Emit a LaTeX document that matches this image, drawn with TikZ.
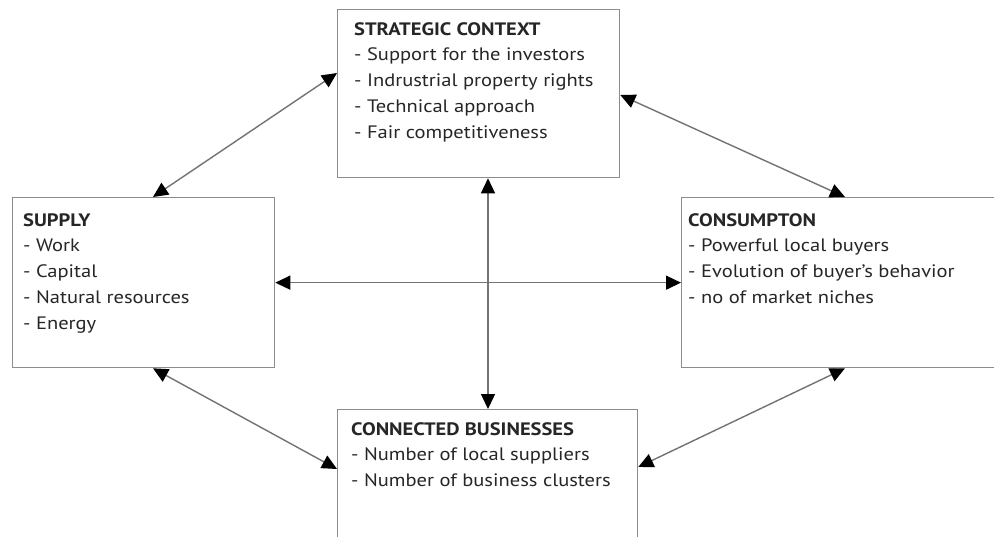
\documentclass[tikz,border=0pt]{standalone}
\usepackage{fontspec}
\setmainfont{PT Sans}[FakeStretch=1.14]
\usetikzlibrary{arrows.meta,calc}
\begin{document}
\begin{tikzpicture}[x=1pt,y=-1pt,
  box/.style={draw=black!45, line width=1.3pt, inner sep=0pt, anchor=north west, fill=white},
  txt/.style={anchor=north west, inner sep=0pt, align=left, text=black!85,
    font=\fontsize{18}{25.8}\selectfont},
  link/.style={draw=black!55, line width=1.4pt, {Triangle[length=15pt,width=14pt,color=black]}-{Triangle[length=15pt,width=14pt,color=black]}},
]
\useasboundingbox (0,0) rectangle (994,536);
\fill[white] (0,0) rectangle (994,536);
\clip (0,0) rectangle (994,536);

% boxes
\node[box, minimum width=282pt, minimum height=168pt] (strat) at (337,9) {};
\node[box, minimum width=262pt, minimum height=170pt] (supply) at (12,197) {};
\node[box, minimum width=330pt, minimum height=170pt] (cons) at (681,197) {};
\node[box, minimum width=300pt, minimum height=160pt] (conn) at (337,409) {};

% texts
\node[txt] (strat-t) at (354,22) {\textbf{STRATEGIC CONTEXT}\\
- Support for the investors\\
- Indrustrial property rights\\
- Technical approach\\
- Fair competitiveness};
\node[txt] (supply-t) at (23,213) {\textbf{SUPPLY}\\
- Work\\
- Capital\\
- Natural resources\\
- Energy};
\node[txt] (cons-t) at (688,213) {\textbf{CONSUMPTON}\\
- Powerful local buyers\\
- Evolution of buyer's behavior\\
- no of market niches};
\node[txt] (conn-t) at (351,422) {\textbf{CONNECTED BUSINESSES}\\
- Number of local suppliers\\
- Number of business clusters};

% connectors
\draw[link] ($(strat.north west)+(0,64)$) -- ($(supply.north west)+(141,0)$);
\draw[link] ($(strat.north east)+(0,86)$) -- ($(cons.north west)+(164,0)$);
\draw[link] ($(supply.south west)+(141,0)$) -- ($(conn.north west)+(0,60)$);
\draw[link] ($(cons.south west)+(164,0)$) -- ($(conn.north east)+(0,58)$);
\draw[link] (supply.east) -- (cons.west);
\draw[link] ($(strat.south west)+(151,0)$) -- ($(conn.north west)+(151,0)$);
\end{tikzpicture}
\end{document}
